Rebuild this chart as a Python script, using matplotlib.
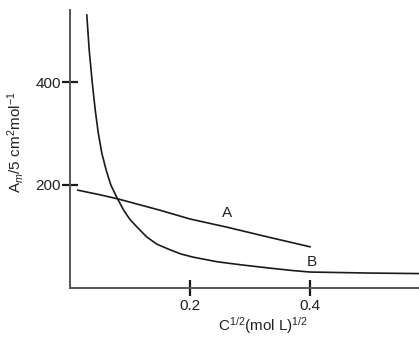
import matplotlib
matplotlib.use("Agg")
import matplotlib.pyplot as plt

plt.rcParams["font.family"] = ["Liberation Sans", "DejaVu Sans"]
plt.rcParams["mathtext.fontset"] = "custom"
plt.rcParams["mathtext.rm"] = "Liberation Sans"
plt.rcParams["mathtext.it"] = "Liberation Sans:italic"
plt.rcParams["mathtext.bf"] = "Liberation Sans:bold"

# Data
curve_a_x = [0.013, 0.05, 0.08, 0.15, 0.20, 0.262, 0.33, 0.40]
curve_a_y = [190, 181, 173, 151, 134, 118, 99, 80]

curve_b_x = [0.028, 0.032, 0.037, 0.042, 0.047, 0.053, 0.060, 0.068, 0.078, 0.090,
             0.100, 0.112, 0.128, 0.145, 0.165, 0.185, 0.205, 0.245, 0.285, 0.330,
             0.370, 0.400, 0.450, 0.500, 0.582]
curve_b_y = [530, 462, 400, 346, 302, 262, 230, 200, 176, 150,
             133, 118, 99, 85, 75, 66, 60, 51, 45, 39,
             34, 31, 30, 29, 28]

x_ticks = [0.2, 0.4]
x_tick_labels = ["0.2", "0.4"]
y_ticks = [200, 400]
y_tick_labels = ["200", "400"]

W, H = 419, 338
fig = plt.figure(figsize=(W / 100, H / 100), dpi=100)
ax = fig.add_axes([70 / W, 50 / H, (W - 70) / W, (288 - 10) / H])

ink = "#1a1a1a"
ax.plot(curve_a_x, curve_a_y, color=ink, lw=1.2)
ax.plot(curve_b_x, curve_b_y, color=ink, lw=1.2)

ax.set_xlim(0, (W - 70) / 600)
ax.set_ylim(0, (288 - 10) * 200 / 103)

for s in ["top", "right"]:
    ax.spines[s].set_visible(False)
for s in ["left", "bottom"]:
    ax.spines[s].set_color("#555555")
    ax.spines[s].set_linewidth(1.4)

ax.set_xticks(x_ticks)
ax.set_xticklabels(x_tick_labels)
ax.set_yticks(y_ticks)
ax.set_yticklabels(y_tick_labels)
ax.tick_params(axis="both", direction="inout", width=1.6, color=ink,
               labelsize=11, labelcolor="#222222")
ax.tick_params(axis="y", length=11, pad=1)
ax.tick_params(axis="x", length=12, pad=2)

ax.text(0.262, 146, "A", fontsize=11, color="#222222", ha="center", va="center")
ax.text(0.403, 50, "B", fontsize=11, color="#222222", ha="center", va="center")

fig.text(263 / W, 1 - 326 / H, "C$^{1/2}$(mol L)$^{1/2}$", fontsize=11,
         color="#222222", ha="center", va="center")
fig.text(15 / W, 1 - 142 / H, "A$_{m}$/5 cm$^{2}$mol$^{-1}$", fontsize=11,
         color="#222222", ha="center", va="center", rotation=90)

fig.savefig("out.png", dpi=100)
